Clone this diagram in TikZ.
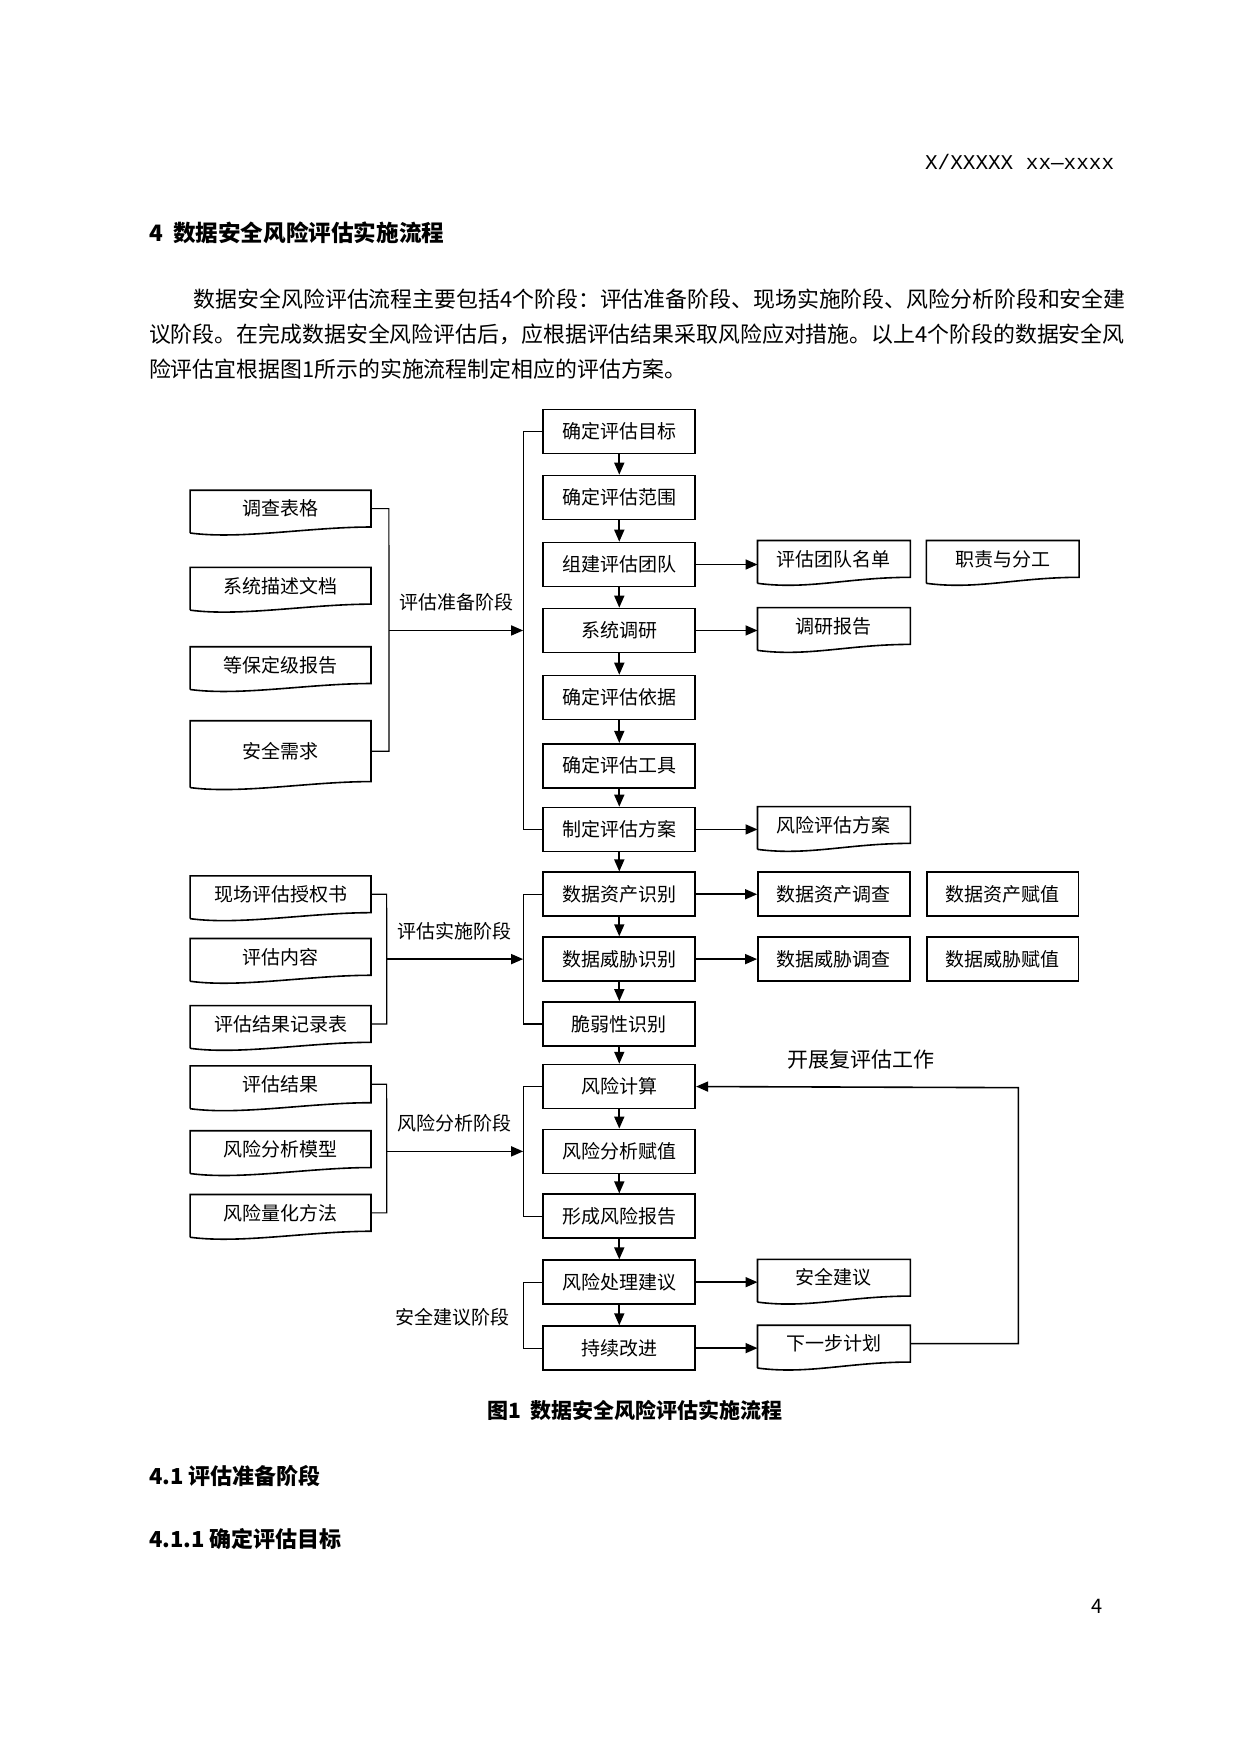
\documentclass[tikz,border=0pt]{standalone}
\usepackage{fontspec}
\setmainfont{Noto Sans CJK SC}
\newfontfamily\monof{Liberation Mono}
\usetikzlibrary{arrows.meta,calc}

% page coordinates: one unit per pixel of the page, y downwards
\tikzset{
    box/.style={draw, thick, minimum width=76pt, minimum height=22pt, font=\fontsize{9.5}{10}\selectfont, inner sep=1pt},
    docbox/.style={minimum width=90pt, minimum height=18pt, font=\fontsize{9.5}{10}\selectfont, inner sep=1pt},
    rdoc/.style={docbox, minimum width=76pt},
    link/.style={thick, -{Triangle[length=6pt,width=5pt]}},
    brace/.style={semithick},
    stage/.style={font=\fontsize{9.5}{10}\selectfont},
    body/.style={anchor=west, font=\fontsize{10.95}{12}\selectfont, inner sep=0pt},
}
\newcommand{\paper}[1]{%
    \draw[thick] ([yshift=-3pt]#1.south west) -- (#1.north west) -- (#1.north east) -- (#1.south east)
        .. controls +(-55,0) and +(45,6) .. ([yshift=-3pt]#1.south west);}

\begin{document}
\begin{tikzpicture}[x=0.559pt, y=-0.559pt]
    \useasboundingbox (0,0) rectangle (1110,1570);
    \fill[white] (0,0) rectangle (1110,1570);

    % page text
    \node[anchor=east, font=\monof\fontsize{10.5}{11}\selectfont] (hdr) at (1003,145) {X/XXXXX xx—xxxx};
    \node[body, font=\bfseries\fontsize{11.3}{12}\selectfont] (sec) at (133,208) {4\ \ 数据安全风险评估实施流程};
    \node[body] (p1) at (173,268) {数据安全风险评估流程主要包括4个阶段：评估准备阶段、现场实施阶段、风险分析阶段和安全建};
    \node[body] (p2) at (133,299) {议阶段。在完成数据安全风险评估后，应根据评估结果采取风险应对措施。以上4个阶段的数据安全风};
    \node[body] (p3) at (133,330) {险评估宜根据图1所示的实施流程制定相应的评估方案。};
    \node[font=\bfseries\fontsize{10.5}{11}\selectfont] (cap) at (568,1262) {图1\ \ 数据安全风险评估实施流程};
    \node[body, font=\bfseries\fontsize{11}{12}\selectfont] (s41) at (133,1320) {4.1 评估准备阶段};
    \node[body, font=\bfseries\fontsize{11}{12}\selectfont] (s411) at (133,1377) {4.1.1 确定评估目标};
    \node[font=\fontsize{10}{11}\selectfont] (pg) at (981,1437) {4};

    % main column
    \node[box] (m1) at (554,386) {确定评估目标};
    \node[box] (m2) at (554,445) {确定评估范围};
    \node[box] (m3) at (554,505) {组建评估团队};
    \node[box] (m4) at (554,564) {系统调研};
    \node[box] (m5) at (554,624) {确定评估依据};
    \node[box] (m6) at (554,685) {确定评估工具};
    \node[box] (m7) at (554,742) {制定评估方案};
    \node[box] (m8) at (554,800) {数据资产识别};
    \node[box] (m9) at (554,858) {数据威胁识别};
    \node[box] (m10) at (554,916) {脆弱性识别};
    \node[box] (m11) at (554,972) {风险计算};
    \node[box] (m12) at (554,1030) {风险分析赋值};
    \node[box] (m13) at (554,1088) {形成风险报告};
    \node[box] (m14) at (554,1147) {风险处理建议};
    \node[box] (m15) at (554,1206) {持续改进};
    \foreach \i [evaluate=\i as \j using int(\i+1)] in {1,...,14}
        \draw[link] (m\i) -- (m\j);

    % right column
    \node[rdoc] (r1) at (746,500) {评估团队名单};
    \node[rdoc] (r2) at (746,560) {调研报告};
    \node[rdoc] (r3) at (746,738) {风险评估方案};
    \node[box] (r4) at (746,800) {数据资产调查};
    \node[box] (r5) at (746,858) {数据威胁调查};
    \node[rdoc] (r6) at (746,1143) {安全建议};
    \node[rdoc] (r7) at (746,1202) {下一步计划};
    \node[rdoc] (f1) at (897,500) {职责与分工};
    \node[box] (f2) at (897,800) {数据资产赋值};
    \node[box] (f3) at (897,858) {数据威胁赋值};
    \foreach \n in {r1,r2,r3,r6,r7,f1} {\paper{\n}}
    \draw[link] (m3.east) -- (m3.east -| r1.west);
    \draw[link] (m4) -- (m4 -| r2.west);
    \draw[link] (m7) -- (m7 -| r3.west);
    \draw[link] (m8) -- (r4);
    \draw[link] (m9) -- (r5);
    \draw[link] (m14) -- (m14 -| r6.west);
    \draw[link] (m15) -- (m15 -| r7.west);

    % feedback loop
    \coordinate (loop) at (911,973);
    \draw[link] (r7.east) -| (loop) -- (m11.east);
    \node[font=\fontsize{10.5}{11}\selectfont] (again) at (770,948) {开展复评估工作};

    % left inputs
    \node[docbox] (a1) at (251,455) {调查表格};
    \node[docbox] (a2) at (251,524) {系统描述文档};
    \node[docbox] (a3) at (251,595) {等保定级报告};
    \node[docbox, minimum height=30pt] (a4) at (251,672) {安全需求};
    \node[docbox] (b1) at (251,800) {现场评估授权书};
    \node[docbox] (b2) at (251,856) {评估内容};
    \node[docbox] (b3) at (251,916) {评估结果记录表};
    \node[docbox] (c1) at (251,970) {评估结果};
    \node[docbox] (c2) at (251,1028) {风险分析模型};
    \node[docbox] (c3) at (251,1085) {风险量化方法};
    \foreach \n in {a1,a2,a3,a4,b1,b2,b3,c1,c2,c3} {\paper{\n}}

    % stage brackets
    \coordinate (ja) at (348,564);  \coordinate (ka) at (468,564);
    \draw[brace] (a1.east) -- ++(16,0) -- (ja) |- (a4.east);
    \draw[brace] (m1.west) -| (ka) |- (m7.west);
    \draw[link] (ja) -- (ka) node[stage, midway, above=6pt] {评估准备阶段};

    \coordinate (jb) at (346,858);  \coordinate (kb) at (468,858);
    \draw[brace] (b1.east) -- ++(14,0) -- (jb) |- (b3.east);
    \draw[brace] (m8.west) -| (kb) |- (m10.west);
    \draw[link] (jb) -- (kb) node[stage, midway, above=6pt] {评估实施阶段};

    \coordinate (jc) at (346,1030);  \coordinate (kc) at (468,1030);
    \draw[brace] (c1.east) -- ++(14,0) -- (jc) |- (c3.east);
    \draw[brace] (m11.west) -| (kc) |- (m13.west);
    \draw[link] (jc) -- (kc) node[stage, midway, above=6pt] {风险分析阶段};

    \coordinate (kd) at (468,1178);
    \draw[brace] (m14.west) -| (kd) |- (m15.west);
    \node[stage, anchor=east] (std) at (462,1178) {安全建议阶段};
\end{tikzpicture}
\end{document}
